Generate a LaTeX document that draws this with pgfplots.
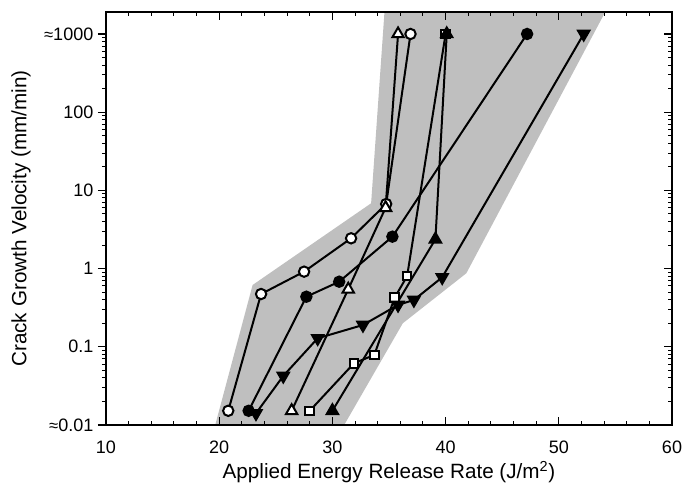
\documentclass[border=0pt]{standalone}
\usepackage{fontspec}
\setmainfont{Liberation Sans}
\usepackage{pgfplots}
\pgfplotsset{compat=1.18}

\begin{document}
\begin{tikzpicture}
\pgfplotsset{
  ser/.style={black, line width=1.5pt, mark options={solid, line width=0.6pt, draw=black}},
}
\begin{axis}[name=ax,
  scale only axis, width=424.5pt, height=309.75pt,
  xmin=10, xmax=60, ymin=0.01, ymax=1910, ymode=log,
  ytick={0.01,0.1,1,10,100,1000},
  major tick length=6pt, minor tick length=3pt,
  axis line style={line width=1pt},
  tick style={line width=0.8pt, black},
  tick label style={font=\fontsize{13.5}{16}\selectfont},
  label style={font=\fontsize{15.5}{18}\selectfont},
  xtick={10,20,...,60}, minor x tick num=4,
  yticklabels={{\fontsize{12.5}{14}\selectfont≈}0.01,0.1,1,10,100,{\fontsize{12.5}{14}\selectfont≈}1000},
  xtick align=inside, ytick align=outside, ytick pos=left,
  /pgf/number format/assume math mode=true,
  xticklabel style={yshift=-8.5pt},
  xlabel={Applied Energy Release Rate (J/m\textsuperscript{2})},
  ylabel={Crack Growth Velocity (mm/min)},
  xlabel style={at={(axis description cs:0.5,-0.114)}, anchor=center},
  ylabel style={at={(axis description cs:-0.150,0.5)}, anchor=center, rotate=0},
  axis on top,
]
% scatter band
\addplot[fill=black!25, draw=none] coordinates {
  (19.65,0.01) (22.95,0.617) (33.42,6.84) (34.6,1910)
  (54.1,1910) (41.83,0.871) (36.22,0.2) (31.04,0.01)} -- cycle;

% open circles
\addplot[ser, mark=*, mark size=3.9pt, mark options={fill=white}] coordinates {
  (20.8,0.0152) (23.7,0.473) (27.5,0.914) (31.65,2.44) (34.75,6.7) (36.9,1000)};
% filled circles
\addplot[ser, mark=*, mark size=3.9pt, mark options={fill=black}] coordinates {
  (22.6,0.0152) (27.7,0.437) (30.6,0.68) (35.3,2.56) (47.2,1000)};
% open up-triangles
\addplot[ser, mark=triangle*, mark size=4.9pt, mark options={fill=white}] coordinates {
  (26.4,0.0152) (31.4,0.544) (34.7,6.0) (35.8,1000)};
% open squares
\addplot[ser, mark=square*, mark size=3.2pt, mark options={fill=white}] coordinates {
  (28.0,0.0152) (31.9,0.0615) (33.7,0.0786) (35.5,0.425) (36.6,0.80) (40.0,1000)};
% filled up-triangles
\addplot[ser, mark=triangle*, mark size=4.9pt, mark options={fill=black}] coordinates {
  (30.0,0.0152) (39.1,2.37) (40.1,1000)};
% filled down-triangles
\addplot[ser, mark=triangle*, mark size=4.9pt, mark options={fill=black, rotate=180}] coordinates {
  (23.25,0.0141) (25.66,0.0424) (28.7,0.1285) (32.7,0.19) (35.8,0.343) (37.2,0.397) (39.7,0.774) (52.2,1000)};
\end{axis}

% ticks on the right side point inwards
\begin{axis}[
  scale only axis, width=424.5pt, height=309.75pt,
  xmin=10, xmax=60, ymin=0.01, ymax=1910, ymode=log,
  ytick={0.01,0.1,1,10,100,1000}, yticklabels={},
  major tick length=6pt, minor tick length=3pt,
  axis line style={line width=1pt},
  tick style={line width=0.8pt, black},
  hide x axis, axis y line*=right, ytick align=inside]
\addplot[draw=none] coordinates {(10,1)};
\end{axis}

\pgfresetboundingbox
\path ([shift={(-79.5pt,-45pt)}]ax.south west) rectangle ([shift={(18pt,9pt)}]ax.north east);
\end{tikzpicture}
\end{document}
